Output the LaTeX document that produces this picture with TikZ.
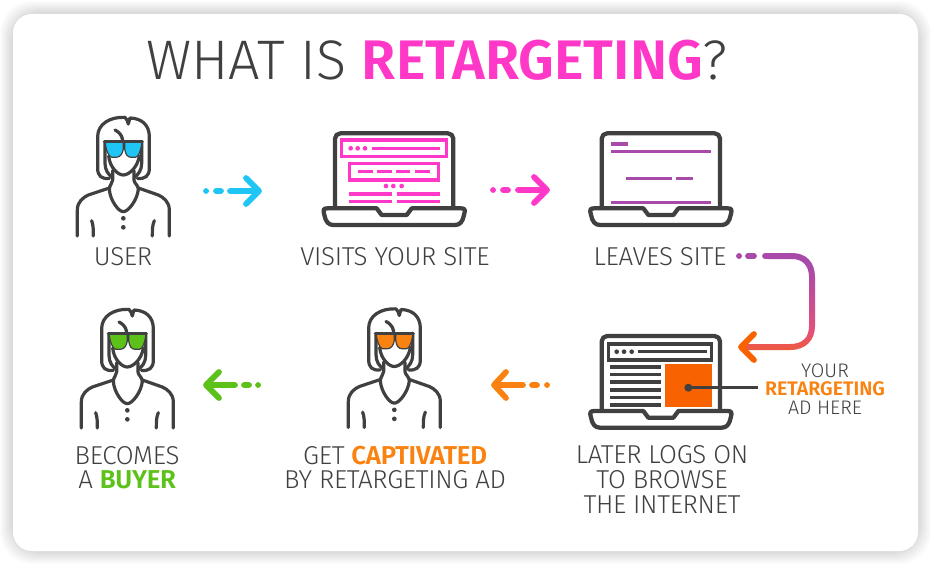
\documentclass[tikz,border=0pt]{standalone}
\usepackage{fontspec}
\setmainfont{Fira Sans Light}[BoldFont={Fira Sans SemiBold}]
\newfontfamily\labfont{Fira Sans Light}[BoldFont={Fira Sans SemiBold},LetterSpace=-1.2]
\usetikzlibrary{arrows.meta}
\definecolor{ink}{HTML}{404040}
\definecolor{txt}{HTML}{404040}
\definecolor{cy}{HTML}{1FC5F5}
\definecolor{pk}{HTML}{FF38C8}
\definecolor{pu}{HTML}{A84AAA}
\definecolor{orl}{HTML}{FA8210}
\definecolor{orr}{HTML}{F96200}
\definecolor{gr}{HTML}{5CC21A}
\definecolor{midc}{HTML}{E4507C}
\pgfdeclareverticalshading{curveshade}{100bp}{
  color(0bp)=(orr); color(15bp)=(orr); color(35bp)=(midc); color(68bp)=(pu); color(100bp)=(pu)}
\tikzset{
  lab/.style={anchor=base,text=txt,font=\labfont\fontsize{19.4}{24}\selectfont,inner sep=0pt},
  labsm/.style={anchor=base,text=txt,font=\fontsize{14.7}{18}\selectfont,inner sep=0pt},
  pline/.style={draw=ink,line width=2.4pt,line cap=round,line join=round},
  lap/.style={draw=ink,line width=3.2pt,line join=round},
  arw/.style={line width=4.3pt,line cap=round,line join=round}
}
\newcommand{\person}[3]{%
\begin{scope}[shift={(#1,#2)},x=.25pt,y=-.25pt]
  \draw[pline] (148,235) .. controls (125,238) and (113,228) .. (113,205) -- (113,110)
     .. controls (113,72) and (150,50) .. (195,52) .. controls (200,58) and (204,64) .. (205,72)
     .. controls (207,64) and (208,58) .. (210,54) .. controls (245,55) and (268,75) .. (268,110)
     -- (268,205) .. controls (268,228) and (255,238) .. (232,235);
  \draw[pline] (135,125) -- (135,190) .. controls (135,210) and (145,225) .. (158,232);
  \draw[pline] (245,125) -- (245,190) .. controls (245,210) and (235,225) .. (222,232);
  \draw[pline] (146,168) .. controls (150,205) and (175,225) .. (190,225) .. controls (205,225) and (232,205) .. (238,168);
  \draw[pline] (158,212) -- (158,240) .. controls (158,250) and (148,255) .. (148,268)
     .. controls (150,300) and (175,335) .. (190,335) .. controls (205,335) and (232,300) .. (235,268)
     .. controls (235,255) and (222,250) .. (222,240) -- (222,212);
  \draw[pline] (52,408) -- (52,330) .. controls (52,305) and (70,292) .. (85,285) -- (148,264);
  \draw[pline] (328,408) -- (328,330) .. controls (328,305) and (310,292) .. (295,285) -- (235,264);
  \draw[pline] (95,362) .. controls (100,375) and (100,390) .. (100,408);
  \draw[pline] (283,362) .. controls (277,375) and (277,390) .. (277,408);
  \fill[ink] (190,355) circle (7) (190,382) circle (7);
  \draw[pline] (165,90) .. controls (185,100) and (188,115) .. (188,125);
  \draw[ink,fill=#3,line width=.9pt,line join=round] (135,125) -- (190,125) -- (190,146)
     .. controls (188,162) and (180,172) .. (168,172) -- (156,172) .. controls (146,172) and (138,150) .. (135,125) -- cycle;
  \draw[ink,fill=#3,line width=.9pt,line join=round] (194,125) -- (246,125)
     .. controls (243,150) and (236,172) .. (226,172) -- (214,172) .. controls (202,172) and (196,162) .. (194,146) -- cycle;
  \draw[pline] (133,125) -- (247,125);
\end{scope}}
\newcommand{\laptopbody}{%
  \draw[lap,rounded corners=4pt] (75,265) -- (75,40) -- (430,40) -- (430,265);
  \draw[lap] (52,265) -- (200,265) -- (215,285) -- (290,285) -- (305,265) -- (453,265)
    .. controls (466,265) and (466,270) .. (462,285) .. controls (458,305) and (450,315) .. (435,315)
    -- (70,315) .. controls (55,315) and (47,305) .. (43,285) .. controls (39,270) and (39,265) .. (52,265) -- cycle;}
\begin{document}
\begin{tikzpicture}[x=.75pt,y=-.75pt]
\useasboundingbox (0,0) rectangle (936,572);
\fill[white] (0,0) rectangle (936,572);
\foreach \k in {13,12,...,1}{
  \fill[black,opacity=.013,rounded corners=24pt] ({13-\k},{14-\k}) rectangle ({918+\k},{551+\k});
}
\fill[black!13,rounded corners=14pt] (12.3,13.3) rectangle (918.7,551.7);
\fill[white,rounded corners=14pt] (13,14) rectangle (918,551);

\node[anchor=base,inner sep=0pt,text=txt,font=\fontsize{41.8}{50}\selectfont] (title) at (437,79) {WHAT IS \textcolor{pk}{\textbf{RETARGETING}}?};

% people
\person{60}{100}{cy}
\person{331}{291.5}{orl}
\person{64}{292}{gr}

% laptop 1
\begin{scope}[shift={(310,120)},x=.25pt,y=-.25pt]
  \laptopbody
  \draw[pk,line width=2.6pt] (95,60) rectangle (410,110);
  \draw[pk,line width=2.6pt] (118,130) rectangle (385,180);
  \fill[pk] (122,85) circle (7) (143,85) circle (7) (165,85) circle (7)
            (228,198) circle (7) (250,198) circle (7) (275,198) circle (7);
  \draw[pk,line width=2.6pt] (185,85) -- (390,85)
     (145,155) -- (190,155) (200,155) -- (245,155) (258,155) -- (300,155) (315,155) -- (360,155)
     (117,222) -- (245,222) (260,222) -- (390,222) (117,245) -- (245,245) (260,245) -- (390,245);
\end{scope}

% laptop 2
\begin{scope}[shift={(576.7,120)},x=.25pt,y=-.25pt]
  \laptopbody
  \draw[pu,line width=2.7pt] (102,72) -- (153,72) (102,95) -- (402,95)
     (148,176) -- (285,176) (298,176) -- (348,176) (102,248) -- (402,248);
\end{scope}

% laptop 3
\begin{scope}[shift={(576.7,322.7)},x=.25pt,y=-.25pt]
  \laptopbody
  \draw[ink,line width=2.4pt] (95,64) rectangle (405,112);
  \fill[ink] (120,87) circle (7) (142,87) circle (7) (165,87) circle (7);
  \draw[ink,line width=2.6pt] (185,87) -- (390,87);
  \foreach \yy in {132,155,178,201,224,247}{\draw[ink,line width=2.8pt] (100,\yy) -- (252,\yy);}
  \fill[orr] (265,124) rectangle (407,254);
  \coordinate (adA) at (335,195);
  \coordinate (adB) at (545,195);
\end{scope}
\fill[ink] (adA) circle (3pt);
\draw[ink,line width=2pt] (adA) -- (adB);

% straight arrows
\coordinate (c1) at (206,191); \coordinate (c2) at (216,191); \coordinate (c3) at (221,191);
\coordinate (c4) at (230,191); \coordinate (c5) at (259,191);
\draw[arw,cy] (c1) -- +(.1,0) (c2) -- (c3) (c4) -- (c5) (246,178) -- (c5) -- (246,204);
\coordinate (p1) at (493,190); \coordinate (p2) at (503,190); \coordinate (p3) at (508,190);
\coordinate (p4) at (518,190); \coordinate (p5) at (547,190);
\draw[arw,pk] (p1) -- +(.1,0) (p2) -- (p3) (p4) -- (p5) (534,177) -- (p5) -- (534,203);
\coordinate (o1) at (547,385); \coordinate (o2) at (537,385); \coordinate (o3) at (532,385);
\coordinate (o4) at (523,385); \coordinate (o5) at (494,385);
\draw[arw,orl] (o1) -- +(.1,0) (o2) -- (o3) (o4) -- (o5) (506,372) -- (o5) -- (506,398);
\coordinate (g1) at (258,385); \coordinate (g2) at (249,385); \coordinate (g3) at (244,385);
\coordinate (g4) at (235,385); \coordinate (g5) at (206,385);
\draw[arw,gr] (g1) -- +(.1,0) (g2) -- (g3) (g4) -- (g5) (219,372) -- (g5) -- (219,398);

% curved gradient arrow
\coordinate (r1) at (739,256); \coordinate (r2) at (748,256); \coordinate (r3) at (754,256);
\coordinate (r4) at (765,256); \coordinate (r5) at (741,347);
\draw[arw,pu] (r1) -- +(.1,0) (r2) -- (r3) (r4) -- (770,256);
\shade[shading=curveshade]
  (768,253) -- (792,253) .. controls (806,253) and (815,262) .. (815,277)
  -- (815,326) .. controls (815,340) and (806,350) .. (790,350) -- (745,350)
  -- (745,344) -- (790,344) .. controls (802,344) and (809,338) .. (809,326)
  -- (809,277) .. controls (809,265) and (802,259) .. (792,259) -- (768,259) -- cycle;
\draw[arw,orr] (754,334) -- (r5) -- (754,360);

% labels
\node[lab] (l1) at (123,265) {USER};
\node[lab] (l2) at (395,265) {VISITS YOUR SITE};
\node[lab] (l3) at (660,265) {LEAVES SITE};
\node[lab] (l4a) at (127,464) {BECOMES};
\node[lab] (l4b) at (127,488) {A \textcolor{gr}{\textbf{BUYER}}};
\node[lab] (l5a) at (395,464) {GET \textcolor{orl}{\textbf{CAPTIVATED}}};
\node[lab] (l5b) at (395,488) {BY RETARGETING AD};
\node[lab] (l6a) at (662,463) {LATER LOGS ON};
\node[lab] (l6b) at (662,488) {TO BROWSE};
\node[lab] (l6c) at (662,513) {THE INTERNET};
\node[labsm] (a1) at (825,377) {YOUR};
\node[labsm] (a2) at (825,395) {\textcolor{orl}{\textbf{RETARGETING}}};
\node[labsm] (a3) at (825,414) {AD HERE};
\end{tikzpicture}
\end{document}
